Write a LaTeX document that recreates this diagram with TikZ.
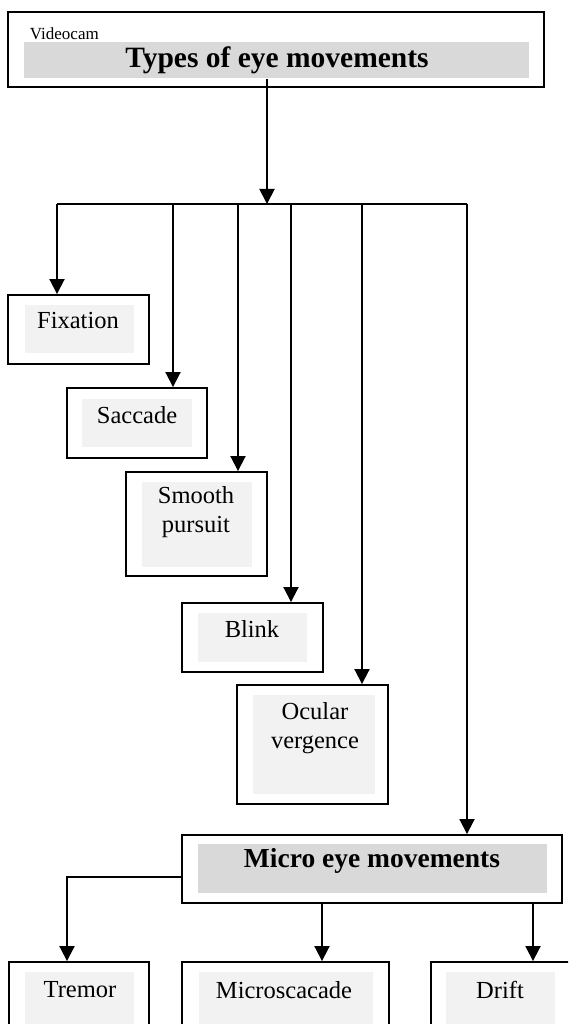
\documentclass[tikz,border=0pt]{standalone}
\usepackage{fontspec}
\setmainfont{Liberation Serif}
\usetikzlibrary{arrows.meta}
\usetikzlibrary{calc}
\definecolor{bandgray}{RGB}{217,217,217}
\definecolor{boxgray}{RGB}{242,242,242}

\begin{document}
\begin{tikzpicture}[x=1pt, y=-1pt, line width=1.9pt, >={Triangle[width=15pt 0 0,length=15pt 0 0]},
	frame/.style={draw, fill=white, inner sep=0pt},
	darkband/.style={fill=bandgray, inner sep=0pt},
	lightband/.style={fill=boxgray, inner sep=0pt},
	lbl/.style={font=\fontsize{24.5}{29}\selectfont, align=center, inner sep=0pt},
	headlbl/.style={font=\fontsize{29.5}{34}\selectfont\bfseries, inner sep=0pt}]
		\useasboundingbox (0,0) rectangle (568,1024);
		\clip (0,0) rectangle (568,1024);
	
		\begin{scope}
			\node[frame, minimum width=536pt, minimum height=75pt] (types) at (276,49.5) {};
			\node[darkband, minimum width=505pt, minimum height=36pt] (typesbg) at (276.5,60) {};
			\node[headlbl] (typestxt) at (277,60) {Types of eye movements};
			\node[font=\fontsize{17}{20}\selectfont, inner sep=0pt, anchor=west] (cam) at (29,34) {Videocam};
			
			\coordinate (split) at (267,204);
			\draw[->] (typesbg.south -| split) -- (split);
			
			\coordinate (b1) at (57,204);
			\coordinate (b2) at (173,204);
			\coordinate (b3) at (238,204);
			\coordinate (b4) at (291,204);
			\coordinate (b5) at (362,204);
			\coordinate (b6) at (467,204);
			\draw (b1) -- (b6);
		\end{scope}
	
		\begin{scope}
			\node[frame, minimum width=141pt, minimum height=69pt] (fix) at (78.5,329.5) {};
			\node[lightband, minimum width=109pt, minimum height=48pt] (fixbg) at (79.5,329) {};
			\node[lbl] (fixtxt) at (78,321) {Fixation};
			
			\node[frame, minimum width=140pt, minimum height=70pt] (sac) at (137,423) {};
			\node[lightband, minimum width=110pt, minimum height=48pt] (sacbg) at (137,423) {};
			\node[lbl] (sactxt) at (137,415) {Saccade};
			
			\node[frame, minimum width=141pt, minimum height=104pt] (pur) at (196.5,524) {};
			\node[lightband, minimum width=110pt, minimum height=85pt] (purbg) at (197,524.5) {};
			\node[lbl] (purtxt) at (196,512) {Smooth\\pursuit};
			
			\node[frame, minimum width=141pt, minimum height=69pt] (blink) at (252.5,637.5) {};
			\node[lightband, minimum width=109pt, minimum height=49pt] (blinkbg) at (252.5,637.5) {};
			\node[lbl] (blinktxt) at (252,629) {Blink};
			
			\node[frame, minimum width=151pt, minimum height=119pt] (verg) at (312.5,744.5) {};
			\node[lightband, minimum width=122pt, minimum height=99pt] (vergbg) at (314,744.5) {};
			\node[lbl] (vergtxt) at (315,728) {Ocular\\vergence};
			
			\node[frame, minimum width=380pt, minimum height=68pt] (micro) at (372,869) {};
			\node[darkband, minimum width=349pt, minimum height=49pt] (microbg) at (372.5,868.5) {};
			\node[headlbl, font=\fontsize{27.5}{32}\selectfont\bfseries] (microtxt) at (372,861) {Micro eye movements};
			
			\draw[->] (b1) -- (b1 |- fix.north);
			\draw[->] (b2) -- (b2 |- sac.north);
			\draw[->] (b3) -- (b3 |- pur.north);
			\draw[->] (b4) -- (b4 |- blink.north);
			\draw[->] (b5) -- (b5 |- verg.north);
			\draw[->] (b6) -- (b6 |- micro.north);
		\end{scope}
	
		\begin{scope}
			\node[frame, minimum width=140pt, minimum height=80pt] (trem) at (79,1002) {};
			\node[lightband, minimum width=109pt, minimum height=60pt] (trembg) at (79.5,1002) {};
			\node[lbl] (tremtxt) at (80,990) {Tremor};
			
			\node[frame, minimum width=207pt, minimum height=80pt] (msac) at (285.5,1002) {};
			\node[lightband, minimum width=174pt, minimum height=60pt] (msacbg) at (286,1002) {};
			\node[lbl] (msactxt) at (284,990) {Microscacade};
			
			\node[frame, minimum width=140pt, minimum height=80pt] (drift) at (501,1002) {};
			\node[lightband, minimum width=109pt, minimum height=60pt] (driftbg) at (500.5,1002) {};
			\node[lbl] (drifttxt) at (500,990) {Drift};
			
			\coordinate (m1) at (67,877);
			\coordinate (m2) at (322,903);
			\coordinate (m3) at (533,903);
			\draw[->] (micro.west |- m1) -- (m1) -- (m1 |- trem.north);
			\draw[->] (m2) -- (m2 |- msac.north);
			\draw[->] (m3) -- (m3 |- drift.north);
		\end{scope}
	\end{tikzpicture}
\end{document}
